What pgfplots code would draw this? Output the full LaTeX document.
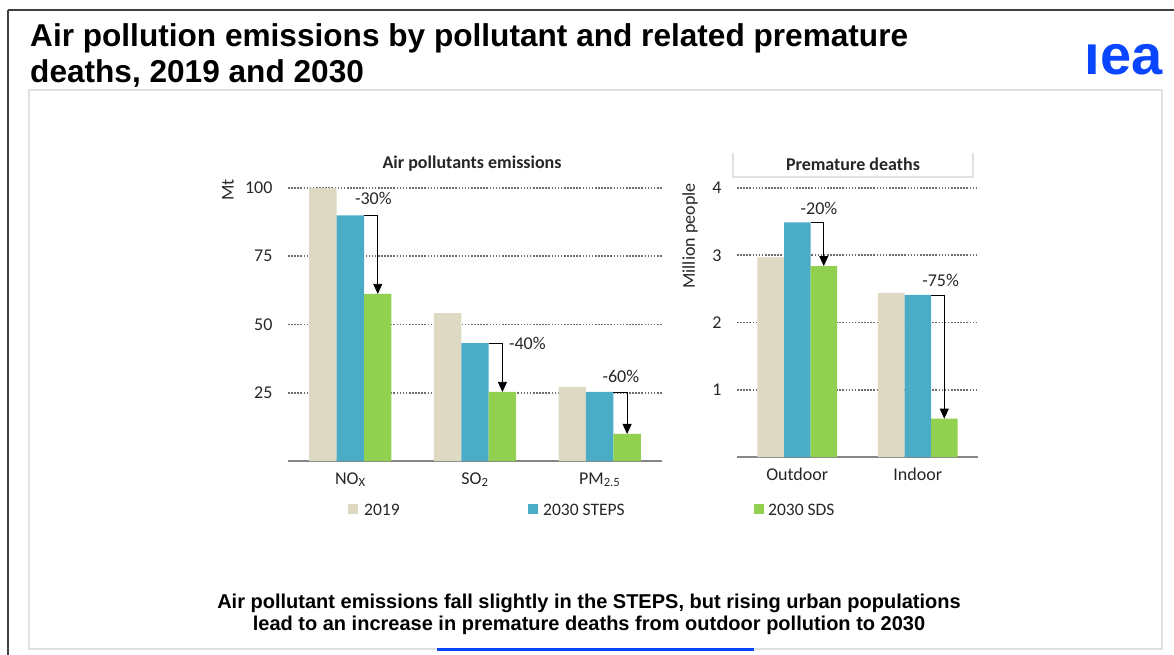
\documentclass[border=0pt]{standalone}
\usepackage{fontspec}
\setmainfont{Carlito}
\newfontfamily\arial{Liberation Sans}
\usepackage{pgfplots}
\pgfplotsset{compat=1.18}
\usetikzlibrary{arrows.meta}
\definecolor{c19}{HTML}{DDD9C3}
\definecolor{cst}{HTML}{4BACC6}
\definecolor{csd}{HTML}{92D050}
\definecolor{ieablue}{HTML}{0A46FF}
\definecolor{txt}{HTML}{262626}
\definecolor{gridc}{HTML}{6E6E6E}
\definecolor{axc}{HTML}{868686}
\newcommand{\cf}{\fontsize{18}{20}\selectfont}
\tikzset{arr/.style={black, line width=0.8pt, -{Triangle[length=10pt,width=9pt]}}}
\pgfplotsset{
  mystyle/.style={
    scale only axis, clip=false,
    ybar=0pt, bar width=0.22,
    axis x line*=bottom, axis y line*=left,
    y axis line style={draw=none},
    x axis line style={draw=axc, line width=1.2pt},
    major tick length=0pt,
    ymajorgrids,
    grid style={draw=gridc, line width=1.6pt, dash pattern=on 1.6pt off 1.5pt},
    tick label style={font=\cf, text=txt},
    /pgf/number format/assume math mode=true,
    yticklabel style={xshift=-12pt},
    xtick={0,1,2},
    ymin=0,
  },
}
\begin{document}
\begin{tikzpicture}
\path[use as bounding box] (0,0) rectangle (1174pt,-655pt);
% frames
\draw[black!75, line width=2pt] (8pt,-10pt) -- (1174pt,-10pt);
\draw[black!75, line width=1.5pt] (8pt,-10pt) -- (8pt,-655pt);
\draw[black!12, line width=1.5pt] (29pt,-90pt) rectangle (1162pt,-649pt);
\fill[ieablue] (437pt,-647.5pt) rectangle (754pt,-651pt);
% title
\node[anchor=base west, inner sep=0, font=\arial\bfseries\fontsize{31.6}{36}\selectfont] at (30pt,-47pt)
  {Air pollution emissions by pollutant and related premature};
\node[anchor=base west, inner sep=0, font=\arial\bfseries\fontsize{31.6}{36}\selectfont] at (30pt,-83pt)
  {deaths, 2019 and 2030};
% logo
\node[anchor=base east, inner sep=0, text=ieablue, font=\arial\bfseries\fontsize{56}{56}\selectfont] at (1163pt,-75pt) {\i ea};
% bottom text
\node[anchor=base, inner sep=0, font=\arial\bfseries\fontsize{20}{22.5}\selectfont] at (589pt,-608pt)
  {Air pollutant emissions fall slightly in the STEPS, but rising urban populations};
\node[anchor=base, inner sep=0, font=\arial\bfseries\fontsize{20}{22.5}\selectfont] at (589pt,-630pt)
  {lead to an increase in premature deaths from outdoor pollution to 2030};

% left panel
\node[font=\bfseries\cf, text=txt] at (472pt,-164pt) {Air pollutants emissions};
\node[rotate=90, font=\cf, text=txt] at (228pt,-190pt) {Mt};
\begin{axis}[mystyle,
  at={(288pt,-461pt)}, anchor=south west,
  width=374pt, height=273pt,
  xmin=-0.5, xmax=2.5, ymax=100,
  ytick={25,50,75,100},
  xticklabels={NO\textsubscript{X}, SO\textsubscript{2}, PM\textsubscript{2.5}},
  xticklabel style={yshift=-8pt},
]
\addplot[fill=c19, draw=none] coordinates {(0,100) (1,54.2) (2,27.1)};
\addplot[fill=cst, draw=none] coordinates {(0,90) (1,43.2) (2,25.3)};
\addplot[fill=csd, draw=none] coordinates {(0,61.2) (1,25.3) (2,9.9)};
\draw[arr] (axis cs:0.11,90) -- (axis cs:0.22,90) -- (axis cs:0.22,61.2);
\draw[arr] (axis cs:1.11,43.2) -- (axis cs:1.22,43.2) -- (axis cs:1.22,25.3);
\draw[arr] (axis cs:2.11,25.3) -- (axis cs:2.22,25.3) -- (axis cs:2.22,9.9);
\node[font=\cf, text=txt] at (axis cs:0.185,96) {-30\%};
\node[font=\cf, text=txt] at (axis cs:1.42,43.2) {-40\%};
\node[font=\cf, text=txt] at (axis cs:2.17,30.8) {-60\%};
\end{axis}

% right panel
\draw[black!12, line width=1.2pt] (733pt,-153pt) -- (733pt,-177pt) -- (973pt,-177pt) -- (973pt,-153pt);
\node[font=\bfseries\cf, text=txt] at (853pt,-164pt) {Premature deaths};
\node[rotate=90, font=\cf, text=txt] at (690pt,-236pt) {Million people};
\begin{axis}[mystyle,
  at={(737pt,-457pt)}, anchor=south west,
  width=241pt, height=269pt,
  xmin=-0.5, xmax=1.5, ymax=4,
  ytick={1,2,3,4},
  xtick={0,1},
  xticklabels={Outdoor, Indoor},
  xticklabel style={yshift=-7pt},
]
\addplot[fill=c19, draw=none] coordinates {(0,2.97) (1,2.44)};
\addplot[fill=cst, draw=none] coordinates {(0,3.49) (1,2.41)};
\addplot[fill=csd, draw=none] coordinates {(0,2.84) (1,0.57)};
\draw[arr] (axis cs:0.11,3.49) -- (axis cs:0.22,3.49) -- (axis cs:0.22,2.84);
\draw[arr] (axis cs:1.11,2.41) -- (axis cs:1.22,2.41) -- (axis cs:1.22,0.57);
\node[font=\cf, text=txt] at (axis cs:0.18,3.70) {-20\%};
\node[font=\cf, text=txt] at (axis cs:1.19,2.62) {-75\%};
\end{axis}

% legend
\fill[c19] (348pt,-504pt) rectangle (358pt,-514pt);
\node[anchor=west, inner sep=0, font=\fontsize{17.5}{19}\selectfont, text=txt] at (364pt,-509.5pt) {2019};
\fill[cst] (528pt,-504pt) rectangle (538pt,-514pt);
\node[anchor=west, inner sep=0, font=\fontsize{17.5}{19}\selectfont, text=txt] at (543pt,-509.5pt) {2030 STEPS};
\fill[csd] (754pt,-504pt) rectangle (764pt,-514pt);
\node[anchor=west, inner sep=0, font=\fontsize{17.5}{19}\selectfont, text=txt] at (768pt,-509.5pt) {2030 SDS};
\end{tikzpicture}
\end{document}
